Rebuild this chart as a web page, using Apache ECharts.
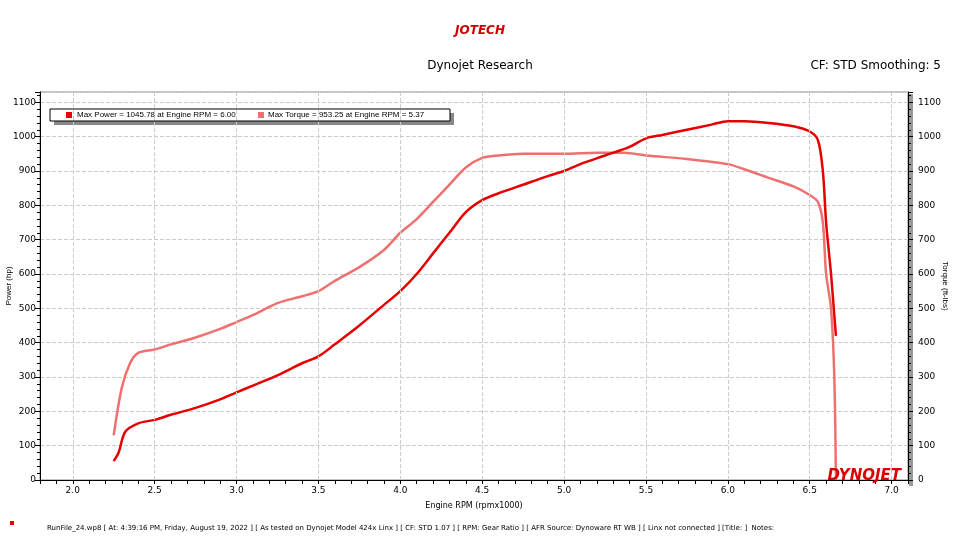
<!DOCTYPE html>
<html><head><meta charset="utf-8">
<script src="https://cdn.jsdelivr.net/npm/echarts@6/dist/echarts.min.js"></script>
<style>html,body{margin:0;background:#fff}#c{width:960px;height:540px}</style>
</head><body><div id="c"></div>
<script>
const powerRpm = [2.25,2.28,2.32,2.4,2.5,2.6,2.75,2.9,3.0,3.1,3.25,3.4,3.5,3.6,3.75,3.9,4.0,4.1,4.2,4.3,4.4,4.5,4.6,4.75,4.9,5.0,5.1,5.25,5.4,5.5,5.6,5.75,5.9,6.0,6.1,6.25,6.4,6.5,6.55,6.58,6.6,6.63,6.65,6.66];
const powerHp = [55,80,140,165,175,190,210,235,255,275,305,340,360,395,450,510,550,600,660,720,780,815,835,860,885,900,920,945,970,995,1005,1020,1035,1045,1045,1040,1030,1015,990,900,750,600,480,420];
const torqueRpm = [2.25,2.3,2.35,2.4,2.5,2.6,2.75,2.9,3.0,3.1,3.25,3.4,3.5,3.6,3.75,3.9,4.0,4.1,4.2,4.3,4.4,4.5,4.6,4.75,5.0,5.2,5.37,5.5,5.75,6.0,6.1,6.25,6.4,6.5,6.55,6.58,6.6,6.63,6.65,6.66];
const torqueFt = [130,270,340,370,380,395,415,440,460,480,515,535,550,580,620,670,720,760,810,860,910,938,945,950,950,953,953,945,935,920,905,880,855,830,810,750,600,500,300,0];
const xGridLines = [2.0,2.5,3.0,3.5,4.0,4.5,5.0,5.5,6.0,6.5,7.0];
const legendText = 'Max Power = 1045.78 at Engine RPM = 6.00';
const legendText2 = 'Max Torque = 953.25 at Engine RPM = 5.37';
const footer = 'RunFile_24.wp8 [ At: 4:39:16 PM, Friday, August 19, 2022 ] [ As tested on Dynojet Model 424x Linx ] [ CF: STD 1.07 ] [ RPM: Gear Ratio ] [ AFR Source: Dynoware RT WB ] [ Linx not connected ] [Title: ]  Notes:';
const pw = powerRpm.map((x,i)=>[x,powerHp[i]]);
const tq = torqueRpm.map((x,i)=>[x,torqueFt[i]]);
const ch = echarts.init(document.getElementById('c'));
const ax = {type:'value',min:0,max:1130,interval:100,axisLine:{show:true,lineStyle:{color:'#000'}},
  axisTick:{show:true,length:5,lineStyle:{color:'#000'}},minorTick:{show:true,splitNumber:5,length:3,lineStyle:{color:'#000'}},
  axisLabel:{fontSize:9,color:'#000',margin:4,formatter:v=>v>1100?'':v}};
ch.setOption({
  animation:false,
  textStyle:{fontFamily:'DejaVu Sans'},
  title:[
    {text:'JOTECH',left:'center',top:20,textStyle:{fontSize:12,fontStyle:'italic',fontWeight:'bold',color:'#c00'}},
    {text:'Dynojet Research',left:'center',top:55,textStyle:{fontSize:12,fontWeight:'normal',color:'#000'}},
    {text:'CF: STD Smoothing: 5',right:14,top:55,textStyle:{fontSize:12,fontWeight:'normal',color:'#000'}},
    {text:footer,left:42,top:520,textStyle:{fontSize:7,fontWeight:'normal',color:'#000'}},
    {text:'DYNOJET',right:54,top:464,textStyle:{fontSize:15,fontStyle:'italic',fontWeight:'bold',color:'#d00'}}
  ],
  graphic:[
    {type:'rect',shape:{x:10,y:521,width:4,height:4},style:{fill:'#e00'}},
    {type:'rect',shape:{x:909,y:94,width:4,height:392},style:{fill:'#999'}},
    {type:'rect',shape:{x:54,y:113,width:400,height:12},style:{fill:'#888'}},
    {type:'rect',shape:{x:50,y:109,width:400,height:12},style:{fill:'#fff',stroke:'#000',lineWidth:1}},
    {type:'rect',shape:{x:66,y:112,width:6,height:6},style:{fill:'#e00'}},
    {type:'text',x:77,y:111,style:{text:legendText,fontSize:8,fill:'#000'}},
    {type:'rect',shape:{x:258,y:112,width:6,height:6},style:{fill:'#f07070'}},
    {type:'text',x:268,y:111,style:{text:legendText2,fontSize:8,fill:'#000'}},
    {type:'text',x:9,y:286,rotation:Math.PI/2,style:{text:'Power (hp)',fontSize:8,fill:'#000',align:'center',verticalAlign:'middle'}},
    {type:'text',x:945,y:286,rotation:-Math.PI/2,style:{text:'Torque (ft-lbs)',fontSize:8,fill:'#000',align:'center',verticalAlign:'middle'}}
  ],
  grid:{left:40,right:52,top:92,bottom:60,show:true,borderColor:'#888',borderWidth:1,containLabel:false,outerBoundsMode:'none'},
  xAxis:{type:'value',min:1.8,max:7.1,interval:0.1,name:'Engine RPM (rpmx1000)',nameLocation:'middle',nameGap:22,
    nameTextStyle:{fontSize:8,color:'#000'},
    axisLine:{onZero:false,lineStyle:{color:'#000'}},axisTick:{length:4,lineStyle:{color:'#000'}},
    axisLabel:{fontSize:9,color:'#000',margin:6,formatter:v=>{const r=Math.round(v*10);return (r%5===0&&r>=20&&r<=70)?(r/10).toFixed(1):'';}},
    splitLine:{show:false}},
  yAxis:[
    Object.assign({},ax,{position:'left',splitLine:{show:true,lineStyle:{type:'dashed',color:'#ccc'}}}),
    Object.assign({},ax,{position:'right',axisLabel:Object.assign({},ax.axisLabel,{margin:10}),splitLine:{show:false}})
  ],
  series:[
    {type:'line',data:tq,yAxisIndex:1,showSymbol:false,smooth:0.3,lineStyle:{color:'#f07070',width:2.5},
     markLine:{silent:true,symbol:'none',label:{show:false},lineStyle:{type:'dashed',color:'#ccc',width:1},
       data:xGridLines.map(v=>({xAxis:v}))},z:1},
    {type:'line',data:pw,yAxisIndex:0,showSymbol:false,smooth:0.3,lineStyle:{color:'#e60000',width:2.5},z:2}
  ]
});
</script></body></html>
